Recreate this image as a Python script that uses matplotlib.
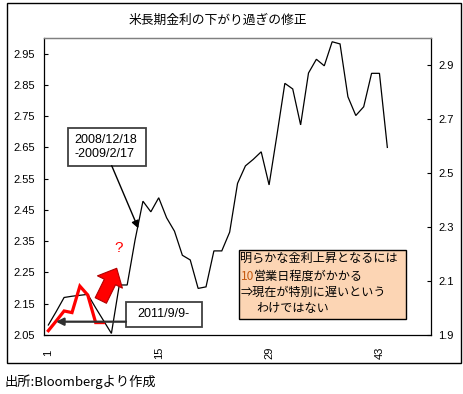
import matplotlib
matplotlib.use("Agg")
import matplotlib.pyplot as plt
from matplotlib.patches import Rectangle, FancyArrowPatch
from matplotlib.transforms import Affine2D
import numpy as np

# ---- data ----
title = "米長期金利の下がり過ぎの修正"
source = "出所:Bloombergより作成"
black_vals = [2.082, 2.125, 2.170, 2.174, 2.177, 2.180, 2.137, 2.096, 2.055, 2.210,
              2.210, 2.354, 2.478, 2.444, 2.489, 2.425, 2.382, 2.305, 2.290, 2.199,
              2.204, 2.319, 2.319, 2.379, 2.535, 2.591, 2.612, 2.636, 2.530, 2.690,
              2.855, 2.837, 2.722, 2.888, 2.932, 2.911, 2.988, 2.981, 2.812, 2.752,
              2.780, 2.887, 2.887, 2.650]
red_vals = [1.916, 1.952, 1.989, 1.983, 2.081, 2.048, 1.946, 1.946]
n_categories = 49
x_ticks = [1, 15, 29, 43]
left_ticks = [2.05, 2.15, 2.25, 2.35, 2.45, 2.55, 2.65, 2.75, 2.85, 2.95]
right_ticks = [1.9, 2.1, 2.3, 2.5, 2.7, 2.9]
box1_text = "2008/12/18\n-2009/2/17"
box2_text = "2011/9/9-"
note_lines = ["明らかな金利上昇となるには", "営業日程度がかかる", "⇒現在が特別に遅いという", "わけではない"]
note_num = "10"

CJK = ['Noto Sans CJK JP', 'DejaVu Sans']
LAT = ['Liberation Sans', 'DejaVu Sans']

W, H = 464, 394
fig = plt.figure(figsize=(W / 100, H / 100), dpi=100)
fig.patch.set_facecolor('white')
# pixel transform (origin top-left)
px = Affine2D().scale(1 / W, -1 / H).translate(0, 1) + fig.transFigure

L, R, T, B = 44.4, 430.7, 38.0, 335.0
ax = fig.add_axes([L / W, 1 - B / H, (R - L) / W, (B - T) / H])
ax2 = ax.twinx()

xb = np.arange(1, len(black_vals) + 1)
xr = np.arange(1, len(red_vals) + 1)
ax.plot(xb, black_vals, color='black', lw=0.9, solid_joinstyle='miter')
ax2.plot(xr, red_vals, color='#FF0000', lw=2.3, solid_joinstyle='miter')

ax.set_xlim(0.5, n_categories + 0.5)
ax.set_ylim(2.05, 3.0)
ax2.set_ylim(1.9, 3.0)

ax.set_yticks(left_ticks)
ax.set_yticklabels([f"{v:.2f}" for v in left_ticks], family=LAT, fontsize=8)
ax2.set_yticks(right_ticks)
ax2.set_yticklabels([f"{v:.1f}" for v in right_ticks], family=LAT, fontsize=8)
ax.tick_params(axis='y', direction='in', length=3, width=0.8, pad=6.8)
ax2.tick_params(axis='y', direction='in', length=3, width=0.8, pad=5.3)

ax.set_xticks(x_ticks)
ax.set_xticklabels([str(v) for v in x_ticks], family=LAT, fontsize=8, rotation=90)
ax.tick_params(axis='x', length=0, pad=13)
for lab in ax.get_xticklabels():
    lab.set_va('center')

for a in (ax, ax2):
    for s in a.spines.values():
        s.set_linewidth(0.9)
ax.spines['top'].set_color('#808080')
ax2.spines['top'].set_color('#808080')
ax.spines['right'].set_visible(False)
ax2.spines['left'].set_visible(False)
ax2.spines['bottom'].set_visible(False)
ax2.spines['right'].set_color('black')

# chart border
fig.add_artist(Rectangle((7.3, 3.3), 453.4, 359.5, transform=px, fill=False,
                         edgecolor='black', lw=1.0, zorder=5))

# title
fig.text(218 / W, 1 - 20 / H, title, family=CJK, fontsize=9.2, ha='center', va='center')
# source
fig.text(5 / W, 1 - 381.5 / H, source, family=CJK, fontsize=9.5, ha='left', va='center')

# box 1
fig.add_artist(Rectangle((67.7, 128.3), 78, 37.4, transform=px, facecolor='white',
                         edgecolor='#404040', lw=1.3, zorder=6))
fig.text(74.5 / W, 1 - 147 / H, box1_text, family=LAT, fontsize=9, ha='left', va='center',
         linespacing=1.25, zorder=7)
fig.add_artist(FancyArrowPatch((111.7, 165.7), (138.3, 228.3), transform=px,
                               arrowstyle='-|>', mutation_scale=11, lw=1.0,
                               color='black', shrinkA=0, shrinkB=0, zorder=6))

# box 2
fig.add_artist(Rectangle((126, 301.7), 75.7, 25, transform=px, facecolor='white',
                         edgecolor='#404040', lw=1.3, zorder=6))
fig.text(163.8 / W, 1 - 314 / H, box2_text, family=LAT, fontsize=9, ha='center', va='center',
         zorder=7)
fig.add_artist(FancyArrowPatch((126, 321.7), (56, 321.7), transform=px,
                               arrowstyle='-|>', mutation_scale=11, lw=1.6,
                               color='#303030', shrinkA=0, shrinkB=0, zorder=6))

# red fat arrow and question mark
fig.add_artist(FancyArrowPatch((100.8, 300.5), (116.7, 268.3), transform=px,
                               arrowstyle='simple,head_width=20,head_length=11,tail_width=9',
                               mutation_scale=1, facecolor='#FF0000', edgecolor='#B00000',
                               lw=0.8, shrinkA=0, shrinkB=0, zorder=6))
fig.text(118.3 / W, 1 - 248.3 / H, "?", family=LAT, fontsize=11, color='#FF0000',
         ha='center', va='center', zorder=7)

# note box
fig.add_artist(Rectangle((239, 250), 166.7, 69.3, transform=px, facecolor='#FCD5B4',
                         edgecolor='black', lw=1.0, zorder=6))
ys = [258.3, 276.0, 292.0, 308.3]
fig.text(240.5 / W, 1 - ys[0] / H, note_lines[0], family=CJK, fontsize=8.7, va='center', zorder=7)
t10 = fig.text(240.5 / W, 1 - ys[1] / H, note_num, family=CJK, fontsize=8.7, va='center',
               color='#C55A11', zorder=7)
fig.add_artist(matplotlib.text.Annotation(note_lines[1], xy=(1, 0), xycoords=t10,
                                          va='bottom', ha='left', family=CJK, fontsize=8.7,
                                          zorder=7))
fig.text(240.5 / W, 1 - ys[2] / H, note_lines[2], family=CJK, fontsize=8.7, va='center', zorder=7)
fig.text(256 / W, 1 - ys[3] / H, note_lines[3], family=CJK, fontsize=8.7, va='center', zorder=7)

fig.savefig('out.png', dpi=100, facecolor='white')
